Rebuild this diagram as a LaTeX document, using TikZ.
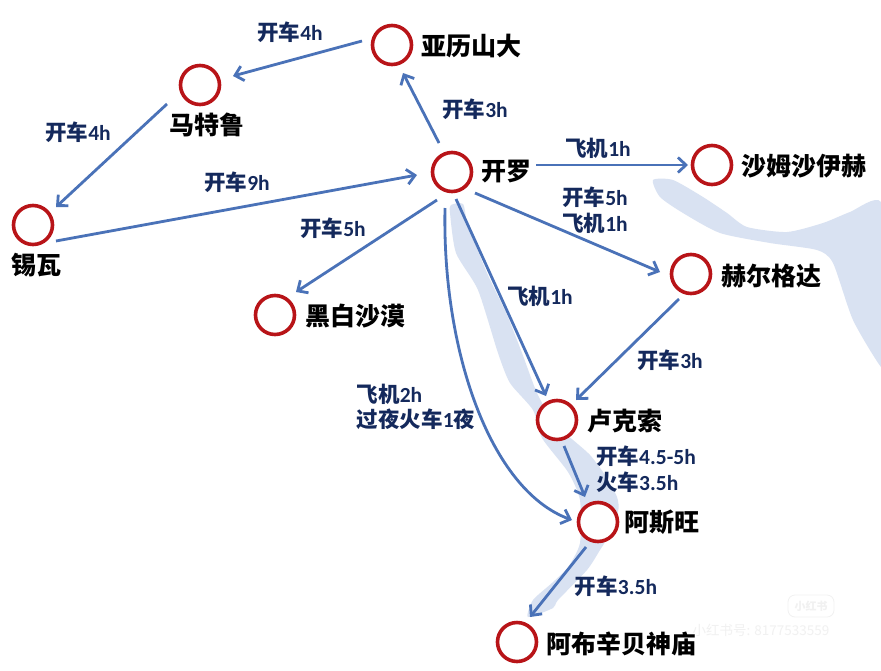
\documentclass[tikz,border=0pt]{standalone}
\usepackage{fontspec}
\usetikzlibrary{arrows.meta,calc}
\setmainfont{Carlito}
\newfontfamily\cjk{Noto Sans CJK SC}
\definecolor{water}{HTML}{D9E2F2}
\definecolor{linkblue}{HTML}{4A72B8}
\definecolor{navy}{HTML}{14295C}
\definecolor{ringred}{HTML}{B81418}
\definecolor{wm}{HTML}{F1F1F1}
\newcommand{\zh}[1]{{\cjk\bfseries #1}}
\tikzset{
  x=1pt,y=-1pt,
  place/.style={circle,draw=ringred,line width=3.6pt,minimum size=39pt,inner sep=0pt,fill=white},
  placename/.style={font=\fontsize{25}{27}\selectfont\cjk\bfseries,text=black,inner sep=0pt,anchor=west},
  lbl/.style={font=\fontsize{21.5}{25.5}\selectfont\bfseries,text=navy,inner sep=0pt,align=left},
  conn/.style={draw=linkblue,line width=2.8pt,-{Straight Barb[length=8pt,width=15pt,line width=2.8pt]}},
  sea/.style={fill=water,draw=none}
}
\begin{document}
\begin{tikzpicture}
\useasboundingbox (0,0) rectangle (881,670);
\fill[white] (0,0) rectangle (881,670);
% water
\fill[sea] plot[smooth cycle,tension=0.4] coordinates {
 (653,180)(673,180)(703,197)(727,213)(747,227)(787,232)(823,223)(850,212)(881,202)
 (895,280)(895,372)(881,367)(853,320)(833,263)(817,250)(770,243)(720,233)(683,213)(660,197)};
\fill[sea] plot[smooth cycle,tension=0.4] coordinates {
 (451,205)(463,204)(468,225)(487,273)(507,315)(522,353)(537,393)(555,425)(573,440)(590,455)(605,475)(617,497)(618,512)
 (606,540)(600,550)(587,570)(558,600)(553,608)(528,617)(533,600)(552,583)(568,567)(580,543)(580,500)(568,472)(542,438)(533,410)(510,383)
 (498,353)(478,290)(456,253)(450,213)};
% watermark
\node[draw=wm,line width=0.8pt,rounded corners=7pt,minimum width=46pt,minimum height=22pt,inner sep=0pt,text=wm,font=\fontsize{11}{11}\selectfont\cjk\bfseries] (wmbox) at (811,606) {小红书};
\node[text=wm,inner sep=0pt,font=\fontsize{13.5}{13.5}\selectfont\cjk] (wmtext) at (761,630) {小红书号: 8177533559};
% places
\node[place] (alex) at (392,45) {};
\node[place] (matruh) at (200,85) {};
\node[place] (cairo) at (452,172) {};
\node[place] (sharm) at (712,165) {};
\node[place] (hurghada) at (691,274) {};
\node[place] (siwa) at (33,225) {};
\node[place] (desert) at (275,315) {};
\node[place] (luxor) at (557,420) {};
\node[place] (aswan) at (598,522) {};
\node[place] (abu) at (517,642) {};
\node[placename] (alexn) at (421,46) {亚历山大};
\node[placename] (matruhn) at (169,125) {马特鲁};
\node[placename] (cairon) at (481,172) {开罗};
\node[placename] (sharmn) at (741,166) {沙姆沙伊赫};
\node[placename] (hurghadan) at (721,276) {赫尔格达};
\node[placename] (siwan) at (11,265) {锡瓦};
\node[placename] (desertn) at (305,316) {黑白沙漠};
\node[placename] (luxorn) at (587,421) {卢克索};
\node[placename] (aswann) at (624,522) {阿斯旺};
\node[placename] (abun) at (546,644) {阿布辛贝神庙};
% connectors
\draw[conn] ($(alex)+(-30,-4)$) -- ($(matruh)+(33,-9)$);
\draw[conn] ($(matruh)+(-33,19)$) -- ($(siwa)+(23,-18)$);
\draw[conn] ($(siwa)+(23,16)$) -- ($(cairo)+(-35,3)$);
\draw[conn] ($(cairo)+(-13,-29)$) -- ($(alex)+(11,28)$);
\draw[conn] ($(cairo)+(84,-7)$) -- ($(sharm)+(-24,0)$);
\draw[conn] ($(cairo)+(23,21)$) -- ($(hurghada)+(-31,-2)$);
\draw[conn] ($(cairo)+(-15,28)$) -- ($(desert)+(21,-23)$);
\draw[conn] ($(cairo)+(4,27)$) -- ($(luxor)+(-11,-24)$);
\draw[conn] ($(hurghada)+(-12,25)$) -- ($(luxor)+(19,-20)$);
\draw[conn] ($(cairo)+(-7,36)$) .. controls (442,350) and (490,490) .. ($(aswan)+(-26,-2)$);
\draw[conn] ($(luxor)+(7,26)$) -- ($(aswan)+(-13,-25)$);
\draw[conn] ($(aswan)+(-12,25)$) -- ($(abu)+(13,-25)$);
% labels
\node[lbl] (l1) at (290,32) {\zh{开车}4h};
\node[lbl] (l2) at (78,132) {\zh{开车}4h};
\node[lbl] (l3) at (237,182) {\zh{开车}9h};
\node[lbl] (l4) at (475,109) {\zh{开车}3h};
\node[lbl] (l5) at (598,148) {\zh{飞机}1h};
\node[lbl] (l6) at (595,210) {\zh{开车}5h\\\zh{飞机}1h};
\node[lbl] (l7) at (333,228) {\zh{开车}5h};
\node[lbl] (l8) at (540,296) {\zh{飞机}1h};
\node[lbl] (l9) at (670,360) {\zh{开车}3h};
\node[lbl] (l10) at (416,407) {\zh{飞机}2h\\\zh{过夜火车}1\zh{夜}};
\node[lbl] (l11) at (646,469) {\zh{开车}4.5-5h\\\zh{火车}3.5h};
\node[lbl] (l12) at (616,586) {\zh{开车}3.5h};
\end{tikzpicture}
\end{document}
